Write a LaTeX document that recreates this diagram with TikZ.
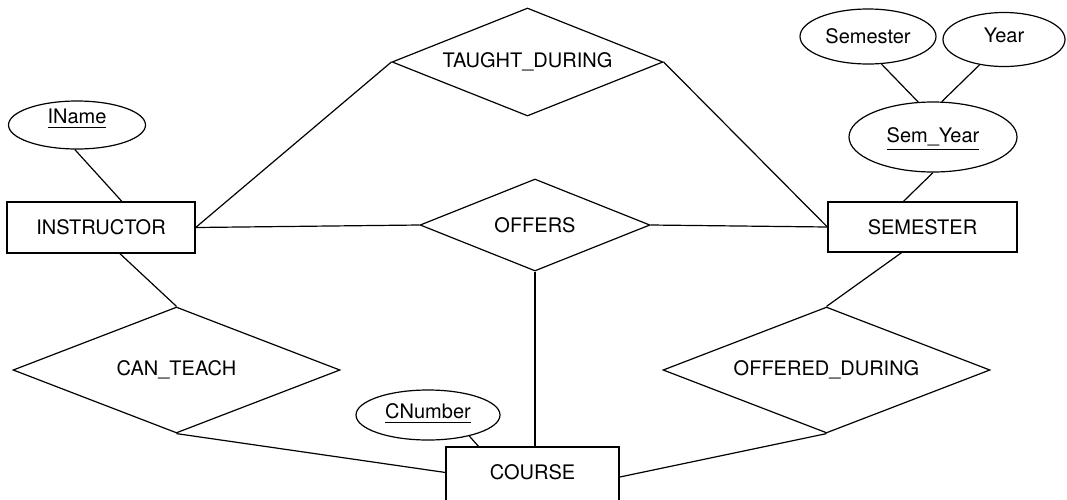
\documentclass[tikz,border=0pt]{standalone}
\usepackage{fontspec}
\setmainfont{TeX Gyre Heros}
\usetikzlibrary{shapes.geometric,calc}
\newcommand\myul[2][5pt]{\setbox0=\hbox{#2}\leavevmode\rlap{\raisebox{-#1}{\rule{\wd0}{1.1pt}}}\box0}
\begin{document}
\begin{tikzpicture}[x=1pt,y=-1pt,
  every node/.style={font=\fontsize{20}{24}\selectfont, inner sep=0pt},
  entity/.style={draw, rectangle, line width=1.3pt},
  rel/.style={draw, diamond, line width=1.2pt, aspect=2.5},
  attr/.style={draw, ellipse, line width=1.2pt},
  conn/.style={line width=1.2pt}]
\useasboundingbox (0,0) rectangle (1067,499);

% entities
\node[entity, minimum width=188pt, minimum height=51pt] (instr) at (101,227.5) {INSTRUCTOR};
\node[entity, minimum width=189pt, minimum height=50pt] (sem) at (922.5,227) {SEMESTER};
\node[entity, minimum width=173pt, minimum height=64pt, text height=10pt, text depth=10pt] (course) at (532.5,479) {COURSE};

% relationships
\node[rel, minimum width=271pt, minimum height=108pt] (taught) at (527.5,62) {TAUGHT\_DURING};
\node[rel, minimum width=230pt, minimum height=92pt] (offers) at (535,225) {OFFERS};
\node[rel, aspect=2.6, minimum width=327pt, minimum height=126pt] (canteach) at (176.5,370) {CAN\_TEACH};
\node[rel, aspect=2.6, minimum width=327pt, minimum height=126pt] (offered) at (826.5,370) {OFFERED\_DURING};

% attributes
\node[attr, minimum width=137pt, minimum height=48pt, text depth=18pt] (iname) at (77,125) {\myul{IName}};
\node[attr, minimum width=136pt, minimum height=55pt] (semattr) at (868,36.5) {Semester};
\node[attr, minimum width=122pt, minimum height=54pt, text depth=9pt] (year) at (1004,39.5) {Year};
\node[attr, minimum width=168pt, minimum height=70pt, text depth=4.5pt] (semyear) at (933,137) {\myul[8pt]{Sem\_Year}};
\node[attr, minimum width=144pt, minimum height=50pt, text depth=8.4pt] (cnum) at (428,415) {\myul{CNumber}};

% connectors
\draw[conn] (iname.-95) -- ($(instr.north west)!0.61!(instr.north east)$);
\draw[conn] (instr.east) -- (offers.west);
\draw[conn] (instr.east) -- (taught.west);
\draw[conn] (taught.east) -- (sem.west);
\draw[conn] (offers.east) -- (sem.west);
\draw[conn] (offers.south) -- (offers.south |- course.north);
\draw[conn] (cnum.-27) -- ($(course.north west)!0.19!(course.north east)$);
\draw[conn] ($(instr.south west)!0.6!(instr.south east)$) -- (canteach.north);
\draw[conn] (canteach.south) -- ($(course.north west)!0.4!(course.south west)$);
\draw[conn] ($(sem.south west)!0.39!(sem.south east)$) -- (offered.north);
\draw[conn] (offered.south) -- ($(course.north east)!0.47!(course.south east)$);
\draw[conn] (semattr.-64) -- (semyear.113);
\draw[conn] (year.-134) -- (semyear.76);
\draw[conn] (semyear.south) -- ($(sem.north west)!0.4!(sem.north east)$);
\end{tikzpicture}
\end{document}
